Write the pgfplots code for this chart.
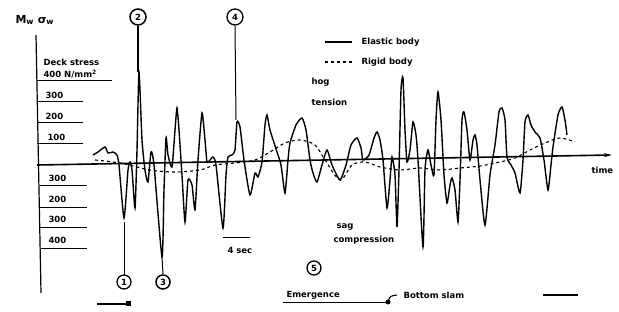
\documentclass[border=0pt]{standalone}
\usepackage{pgfplots}
\pgfplotsset{compat=1.18}
\usepackage{fontspec}
\setmainfont{DejaVu Sans}
\usetikzlibrary{arrows.meta}
\begin{document}
\begin{tikzpicture}[font=\fontsize{8.5}{10}\selectfont\bfseries]
\begin{axis}[width=619pt, height=312pt, scale only axis,
  xmin=0, xmax=619, ymin=-740, ymax=820,
  axis lines=none, clip=false,
  every node/.append style={inner sep=0pt}]
\path (axis cs:0,-740) rectangle (axis cs:619,820);
% axes
\draw[line width=1.2pt] (axis cs:36,645) -- (axis cs:41,-645);
\draw[line width=1.6pt, -{Stealth[length=8pt,width=4pt]}] (axis cs:37,-5) -- (axis cs:612,45);
% elastic body
\addplot[black, line width=1.4pt, smooth, tension=0.35] coordinates {
(93,45)(98,60)(105,85)(108,55)(113,60)(117,45)(119,-5)(124,-270)(128,-30)(130,10)(132,-30)(135,-220)(137,70)(139,460)(142,120)(145,-30)(148,-90)(151,60)(154,-5)(162,-465)(164,-130)(166,130)(168,45)(172,-15)(175,170)(177,280)(179,170)(182,-55)(185,-290)(188,-80)(192,-105)(195,-230)(198,20)(202,255)(205,120)(207,10)(210,20)(213,35)(216,-5)(223,-320)(226,-55)(228,35)(232,45)(235,70)(237,210)(240,185)(244,20)(250,-155)(255,-45)(258,-65)(262,10)(265,195)(267,245)(270,170)(277,60)(281,-5)(285,-145)(288,20)(290,105)(296,195)(302,230)(306,170)(310,20)(313,-45)(317,-90)(322,-5)(327,70)(332,-5)(340,-80)(346,-5)(351,95)(357,130)(361,80)(363,20)(369,45)(374,130)(377,160)(380,120)(383,20)(387,-220)(390,-80)(392,35)(395,-55)(397,-315)(399,-30)(401,370)(403,430)(405,170)(407,10)(410,70)(413,210)(416,145)(418,20)(423,-415)(425,-30)(428,70)(431,-5)(434,-55)(436,220)(438,360)(441,220)(444,-55)(447,-195)(450,-105)(452,-70)(455,-130)(458,-290)(460,-80)(462,220)(464,260)(467,170)(470,20)(473,120)(475,145)(477,95)(480,-80)(485,-305)(490,-55)(495,95)(499,260)(502,280)(505,220)(507,35)(511,-5)(515,-45)(520,-145)(523,20)(525,210)(528,245)(531,195)(535,160)(540,130)(544,20)(548,-130)(551,-5)(553,85)(558,245)(562,285)(565,220)(567,145)
};
% rigid body
\addplot[black, line width=1.1pt, dashed, smooth] coordinates {
(95,20)(120,5)(150,-30)(175,-40)(200,-30)(215,-5)(235,5)(255,20)(270,60)(285,105)(300,120)(315,95)(325,20)(340,-80)(352,-5)(365,10)(380,-15)(400,-30)(420,-20)(440,-30)(460,-20)(480,-10)(500,10)(515,30)(530,70)(545,105)(560,130)(575,110)
};
% y scale marks
\draw[line width=1pt] (axis cs:37,415) -- (axis cs:112,415);
\draw[line width=1pt] (axis cs:37,310) -- (axis cs:83,310);
\draw[line width=1pt] (axis cs:37,205) -- (axis cs:83,205);
\draw[line width=1pt] (axis cs:37,100) -- (axis cs:83,100);
\draw[line width=1pt] (axis cs:40,-110) -- (axis cs:87,-110);
\draw[line width=1pt] (axis cs:40,-220) -- (axis cs:87,-220);
\draw[line width=1pt] (axis cs:40,-320) -- (axis cs:87,-320);
\draw[line width=1pt] (axis cs:41,-425) -- (axis cs:87,-425);
\node[anchor=west] at (axis cs:40,510) {Deck stress};
\node[anchor=west] at (axis cs:40,450) {400 N/mm\textsuperscript{2}};
\node[anchor=west] at (axis cs:42,345) {300};
\node[anchor=west] at (axis cs:42,240) {200};
\node[anchor=west] at (axis cs:44,135) {100};
\node[anchor=west] at (axis cs:45,-70) {300};
\node[anchor=west] at (axis cs:45,-175) {200};
\node[anchor=west] at (axis cs:45,-275) {300};
\node[anchor=west] at (axis cs:45,-380) {400};
\node[anchor=west, font=\fontsize{11}{13}\selectfont\bfseries] at (axis cs:12,720) {M\textsubscript{w} σ\textsubscript{w}};
% legend
\draw[line width=1.1pt] (axis cs:325,610) -- (axis cs:352,610);
\node[anchor=west] at (axis cs:358,610) {Elastic body};
\draw[line width=1.1pt, dashed] (axis cs:325,510) -- (axis cs:352,510);
\node[anchor=west] at (axis cs:358,510) {Rigid body};
% annotations
\node[anchor=west] at (axis cs:308,410) {hog};
\node[anchor=west] at (axis cs:308,310) {tension};
\node[anchor=west] at (axis cs:333,-315) {sag};
\node[anchor=west] at (axis cs:330,-380) {compression};
\draw[line width=1pt] (axis cs:223,-370) -- (axis cs:250,-370);
\node[anchor=west] at (axis cs:224,-430) {4 sec};
\node[anchor=west] at (axis cs:588,-30) {time};
% circled markers
\draw[line width=1pt] (axis cs:124,-290) -- (axis cs:124,-555);
\draw[line width=1.3pt] (axis cs:124,-590) circle[radius=7pt];
\node at (axis cs:124,-590) {1};
\draw[line width=1.4pt] (axis cs:138,690) -- (axis cs:138,460);
\draw[line width=1.5pt] (axis cs:138,735) circle[radius=8pt];
\node at (axis cs:138,735) {2};
\draw[line width=1pt] (axis cs:162,-465) -- (axis cs:163,-550);
\draw[line width=1.5pt] (axis cs:163,-590) circle[radius=7pt];
\node at (axis cs:163,-590) {3};
\draw[line width=1pt] (axis cs:235,690) -- (axis cs:236,220);
\draw[line width=1.3pt] (axis cs:235,735) circle[radius=8pt];
\node at (axis cs:235,735) {4};
\draw[line width=1.3pt] (axis cs:314,-520) circle[radius=7pt];
\node at (axis cs:314,-520) {5};
% bottom legend line
\node[anchor=west] at (axis cs:283,-655) {Emergence};
\draw[line width=1pt] (axis cs:283,-695) -- (axis cs:388,-695);
\fill (axis cs:388,-690) circle[radius=2.5pt];
\draw[line width=1.1pt] (axis cs:388,-690) .. controls (axis cs:390,-660) .. (axis cs:397,-655);
\node[anchor=west] at (axis cs:400,-655) {Bottom slam};
\draw[line width=1.1pt] (axis cs:543,-655) -- (axis cs:578,-655);
\draw[line width=1.1pt] (axis cs:97,-700) -- (axis cs:126,-700);
\fill (axis cs:128,-700) ++(-2.5pt,-2.5pt) rectangle ++(5pt,5pt);
\end{axis}
\end{tikzpicture}
\end{document}
